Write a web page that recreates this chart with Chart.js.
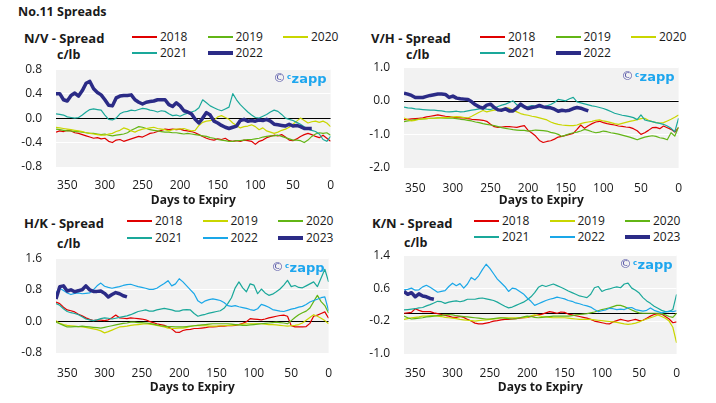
<!DOCTYPE html>
<html>
<head>
<meta charset="utf-8">
<script src="https://cdn.jsdelivr.net/npm/chart.js@4.4.0/dist/chart.umd.min.js"></script>
<style>
  body { margin: 0; width: 716px; height: 403px; background: #fff; position: relative; overflow: hidden;
         font-family: 'Open Sans', sans-serif; color: #1a1a1a; }
  .t { position: absolute; white-space: nowrap; line-height: 16px; }
  canvas { position: absolute; }
</style>
</head>
<body>
<script>
// days to expiry, shared by every series
const days = [365,360,355,350,345,340,335,330,325,320,315,310,305,300,295,290,285,280,275,270,
  265,260,255,250,245,240,235,230,225,220,215,210,205,200,195,190,185,180,175,170,
  165,160,155,150,145,140,135,130,125,120,115,110,105,100,95,90,85,80,75,70,
  65,60,55,50,45,40,35,30,25,20,15,10,5,0];
const xTicks = [350, 300, 250, 200, 150, 100, 50, 0];

const nvTicks = [-0.8, -0.4, 0, 0.4, 0.8];
const vhTicks = [-2, -1, 0, 1];
const hkTicks = [-0.8, 0, 0.8, 1.6];
const knTicks = [-1.0, -0.2, 0.6, 1.4];

// N/V spread
const nv2018 = [-0.23,-0.21,-0.22,-0.20,-0.21,-0.24,-0.25,-0.27,-0.29,-0.31,
  -0.33,-0.32,-0.34,-0.33,-0.38,-0.40,-0.36,-0.35,-0.38,-0.36,
  -0.34,-0.32,-0.30,-0.31,-0.28,-0.25,-0.24,-0.22,-0.20,-0.18,
  -0.19,-0.18,-0.19,-0.18,-0.20,-0.21,-0.22,-0.24,-0.27,-0.30,
  -0.33,-0.35,-0.36,-0.34,-0.35,-0.33,-0.37,-0.38,-0.37,-0.38,
  -0.36,-0.37,-0.38,-0.43,-0.38,-0.36,-0.32,-0.30,-0.28,-0.29,
  -0.27,-0.31,-0.36,-0.37,-0.34,-0.30,-0.27,-0.25,-0.27,-0.30,
  -0.32,-0.28,-0.33,-0.38];
const nv2019 = [-0.18,-0.19,-0.20,-0.21,-0.21,-0.22,-0.22,-0.23,-0.24,-0.25,
  -0.25,-0.26,-0.27,-0.26,-0.28,-0.29,-0.28,-0.27,-0.26,-0.24,
  -0.20,-0.17,-0.14,-0.15,-0.17,-0.19,-0.20,-0.21,-0.22,-0.23,
  -0.23,-0.24,-0.24,-0.25,-0.26,-0.25,-0.26,-0.27,-0.28,-0.29,
  -0.30,-0.32,-0.33,-0.35,-0.36,-0.37,-0.38,-0.38,-0.37,-0.37,
  -0.36,-0.35,-0.35,-0.34,-0.33,-0.31,-0.30,-0.29,-0.29,-0.28,
  -0.30,-0.32,-0.34,-0.36,-0.36,-0.37,-0.40,-0.36,-0.30,-0.26,
  -0.24,-0.25,-0.24,-0.28];
const nv2020 = [-0.15,-0.16,-0.17,-0.18,-0.19,-0.20,-0.21,-0.22,-0.24,-0.25,
  -0.26,-0.27,-0.28,-0.28,-0.26,-0.25,-0.22,-0.20,-0.16,-0.18,
  -0.21,-0.23,-0.20,-0.18,-0.17,-0.16,-0.15,-0.17,-0.18,-0.19,
  -0.21,-0.19,-0.18,-0.18,-0.17,-0.19,-0.21,-0.20,-0.12,-0.07,
  -0.05,-0.04,-0.03,0.02,0.04,0.01,-0.02,-0.08,-0.12,-0.16,
  -0.14,-0.13,-0.11,-0.14,-0.19,-0.16,-0.21,-0.23,-0.25,-0.23,
  -0.20,-0.18,-0.15,-0.10,-0.05,0.00,-0.04,-0.08,-0.06,-0.05,
  -0.07,-0.05,-0.08,-0.14];
const nv2021 = [0.07,0.06,0.05,0.02,0.01,0.00,0.01,0.05,0.10,0.14,
  0.15,0.14,0.13,0.05,-0.02,-0.03,0.00,0.07,0.10,0.11,
  0.13,0.12,0.14,0.16,0.15,0.13,0.12,0.10,0.12,0.11,
  0.07,0.04,0.05,0.03,0.06,0.08,0.10,0.12,0.17,0.30,
  0.25,0.20,0.17,0.14,0.12,0.15,0.18,0.40,0.30,0.22,
  0.16,0.10,0.05,0.01,0.00,0.03,0.06,0.10,0.13,0.11,
  0.06,0.00,-0.02,-0.04,-0.07,-0.10,-0.14,-0.18,-0.20,-0.22,
  -0.26,-0.35,-0.38,-0.30];
const nv2022 = [0.40,0.40,0.30,0.28,0.37,0.41,0.36,0.45,0.57,0.60,
  0.48,0.42,0.38,0.30,0.21,0.20,0.33,0.36,0.37,0.37,
  0.38,0.30,0.26,0.23,0.26,0.27,0.28,0.30,0.30,0.30,
  0.22,0.19,0.25,0.20,0.12,0.10,0.07,-0.02,-0.08,0.00,
  0.09,0.05,-0.05,-0.08,-0.12,-0.15,-0.17,-0.15,-0.13,-0.04,
  -0.02,-0.05,-0.04,-0.05,-0.03,-0.04,-0.02,-0.05,-0.10,-0.11,
  -0.12,-0.13,-0.10,-0.13,-0.12,-0.14,-0.17,-0.17,-0.17];

// V/H spread
const vh2018 = [-0.56,-0.55,-0.54,-0.53,-0.52,-0.51,-0.48,-0.46,-0.44,-0.42,
  -0.44,-0.46,-0.47,-0.49,-0.50,-0.51,-0.51,-0.53,-0.55,-0.56,
  -0.57,-0.58,-0.61,-0.70,-0.77,-0.79,-0.78,-0.77,-0.77,-0.78,
  -0.79,-0.76,-0.74,-0.88,-0.96,-1.05,-1.18,-1.24,-1.21,-1.19,
  -1.14,-1.08,-1.06,-1.03,-1.00,-0.97,-0.85,-0.72,-0.82,-0.74,
  -0.68,-0.63,-0.61,-0.65,-0.68,-0.70,-0.72,-0.75,-0.76,-0.78,
  -0.79,-0.83,-0.89,-1.00,-0.95,-0.88,-0.80,-0.79,-0.83,-0.75,
  -0.80,-0.85,-0.93,-0.80];
const vh2019 = [-0.62,-0.60,-0.58,-0.56,-0.55,-0.54,-0.53,-0.52,-0.52,-0.51,
  -0.51,-0.52,-0.51,-0.52,-0.53,-0.55,-0.56,-0.58,-0.60,-0.63,
  -0.65,-0.68,-0.70,-0.72,-0.74,-0.77,-0.80,-0.82,-0.84,-0.86,
  -0.87,-0.88,-0.88,-0.90,-0.89,-0.87,-0.88,-0.89,-0.90,-0.94,
  -0.96,-1.00,-1.06,-1.02,-0.98,-0.95,-0.93,-0.90,-0.85,-0.88,
  -0.92,-0.95,-0.93,-0.90,-0.92,-0.95,-0.97,-0.99,-1.02,-1.05,
  -1.08,-1.12,-1.16,-1.12,-1.08,-1.06,-1.04,-1.06,-1.10,-1.12,
  -1.16,-0.95,-1.05,-0.78];
const vh2020 = [-0.51,-0.56,-0.60,-0.58,-0.55,-0.54,-0.53,-0.52,-0.52,-0.51,
  -0.50,-0.50,-0.49,-0.48,-0.47,-0.48,-0.50,-0.51,-0.46,-0.40,
  -0.34,-0.29,-0.33,-0.30,-0.28,-0.27,-0.25,-0.21,-0.22,-0.28,
  -0.33,-0.38,-0.41,-0.43,-0.46,-0.48,-0.51,-0.54,-0.57,-0.63,
  -0.67,-0.70,-0.72,-0.73,-0.74,-0.74,-0.72,-0.68,-0.65,-0.63,
  -0.61,-0.58,-0.57,-0.60,-0.62,-0.65,-0.68,-0.70,-0.67,-0.64,
  -0.61,-0.59,-0.56,-0.53,-0.52,-0.58,-0.62,-0.65,-0.66,-0.65,
  -0.60,-0.55,-0.49,-0.42];
const vh2021 = [-0.19,-0.21,-0.22,-0.24,-0.25,-0.26,-0.27,-0.28,-0.28,-0.29,
  -0.30,-0.32,-0.33,-0.32,-0.31,-0.33,-0.32,-0.30,-0.28,-0.26,
  -0.24,-0.23,-0.25,-0.26,-0.22,-0.17,-0.13,-0.10,-0.05,0.00,
  -0.12,-0.17,-0.19,-0.17,-0.14,-0.16,-0.18,-0.19,-0.15,-0.11,
  -0.05,0.04,0.02,0.00,0.06,0.10,-0.03,-0.06,-0.09,-0.12,
  -0.15,-0.17,-0.20,-0.23,-0.27,-0.32,-0.37,-0.40,-0.43,-0.45,
  -0.47,-0.50,-0.56,-0.42,-0.57,-0.60,-0.62,-0.65,-0.67,-0.70,
  -0.75,-0.82,-0.92,-0.52];
const vh2022 = [0.23,0.20,0.16,0.10,0.10,0.10,0.13,0.16,0.18,0.20,
  0.20,0.19,0.10,0.14,0.08,0.06,0.05,0.04,-0.03,-0.12,
  -0.18,-0.22,-0.13,-0.10,-0.20,-0.27,-0.28,-0.24,-0.30,-0.30,
  -0.22,-0.10,-0.18,-0.23,-0.20,-0.18,-0.14,-0.18,-0.20,-0.21,
  -0.25,-0.31,-0.28,-0.30,-0.28,-0.23,-0.20,-0.22,-0.26,-0.30];

// H/K spread
const hk2018 = [0.49,0.45,0.36,0.29,0.27,0.24,0.18,0.14,0.09,0.05,
  0.02,0.03,0.03,0.02,0.04,0.09,0.16,0.09,0.08,0.07,
  0.09,0.08,0.07,0.06,0.04,0.00,-0.03,-0.06,-0.08,-0.10,
  -0.14,-0.19,-0.27,-0.28,-0.23,-0.21,-0.20,-0.18,-0.18,-0.17,
  -0.16,-0.14,-0.14,-0.13,-0.12,-0.12,-0.11,-0.11,-0.10,-0.08,
  -0.05,-0.01,0.07,0.06,0.05,0.04,0.06,0.09,0.11,0.13,
  0.15,0.16,0.13,-0.11,-0.14,-0.14,-0.14,-0.13,-0.05,0.13,
  0.16,0.20,0.24,0.08];
const hk2019 = [0.02,-0.05,-0.08,-0.10,-0.11,-0.12,-0.13,-0.14,-0.15,-0.17,
  -0.19,-0.21,-0.24,-0.29,-0.26,-0.22,-0.18,-0.14,-0.13,-0.12,
  -0.10,-0.09,-0.08,-0.07,-0.06,-0.07,-0.08,-0.10,-0.12,-0.14,
  -0.17,-0.18,-0.18,-0.17,-0.17,-0.15,-0.13,-0.11,-0.10,-0.11,
  -0.11,-0.12,-0.12,-0.12,-0.11,-0.11,-0.10,-0.10,-0.09,-0.08,
  -0.07,-0.06,-0.06,-0.06,-0.06,-0.06,-0.07,-0.08,-0.08,-0.09,
  -0.10,-0.11,-0.12,-0.11,-0.10,-0.08,-0.04,0.03,0.10,0.17,
  0.13,0.08,0.02,-0.06];
const hk2020 = [-0.02,-0.06,-0.10,-0.14,-0.14,-0.13,-0.13,-0.12,-0.13,-0.14,
  -0.15,-0.16,-0.17,-0.15,-0.13,-0.11,-0.09,-0.07,-0.05,-0.04,
  -0.02,-0.02,-0.03,-0.03,-0.04,-0.05,-0.07,-0.09,-0.11,-0.12,
  -0.13,-0.13,-0.14,-0.14,-0.14,-0.13,-0.12,-0.11,-0.10,-0.09,
  -0.08,-0.07,-0.06,-0.06,-0.06,-0.06,-0.06,-0.07,-0.08,-0.09,
  -0.10,-0.10,-0.09,-0.08,-0.07,-0.06,-0.05,-0.04,-0.03,-0.02,
  -0.03,-0.04,-0.06,0.02,0.10,0.17,0.22,0.26,0.34,0.50,
  0.66,0.50,0.40,0.21];
const hk2021 = [0.45,0.41,0.32,0.25,0.22,0.20,0.17,0.12,0.06,0.04,
  0.02,0.04,0.07,0.09,0.08,0.06,0.08,0.10,0.12,0.14,
  0.17,0.21,0.25,0.27,0.29,0.26,0.26,0.29,0.31,0.33,
  0.31,0.29,0.26,0.26,0.29,0.30,0.29,0.20,0.13,0.16,
  0.18,0.21,0.23,0.25,0.27,0.33,0.45,0.60,0.85,1.00,
  0.85,0.75,0.95,0.92,0.70,0.82,0.72,0.66,0.69,0.75,
  0.82,0.92,1.04,0.88,0.91,0.86,0.85,0.90,0.95,1.00,
  0.88,1.10,1.32,1.00];
const hk2022 = [0.72,0.84,0.78,0.72,0.68,0.71,0.72,0.70,0.71,0.72,
  0.80,0.90,0.97,0.89,0.86,0.84,0.86,0.88,0.91,0.93,
  0.94,0.91,0.88,0.86,0.84,0.81,0.81,0.84,0.90,0.96,
  1.03,0.90,0.95,1.08,1.00,0.90,0.80,0.70,0.52,0.46,
  0.52,0.55,0.57,0.55,0.53,0.48,0.40,0.38,0.40,0.37,
  0.35,0.33,0.30,0.28,0.32,0.43,0.40,0.36,0.30,0.28,
  0.26,0.25,0.28,0.31,0.33,0.36,0.38,0.43,0.49,0.53,
  0.56,0.60,0.62,0.27];
const hk2023 = [0.57,0.88,0.90,0.77,0.80,0.75,0.78,0.80,0.90,0.80,
  0.76,0.76,0.77,0.71,0.62,0.68,0.73,0.70,0.65,0.62];

// K/N spread
const kn2018 = [-0.01,0.00,0.01,0.10,0.06,0.03,0.03,0.03,0.00,-0.02,
  -0.04,-0.06,-0.08,-0.11,-0.11,-0.09,-0.11,-0.16,-0.20,-0.25,
  -0.27,-0.27,-0.25,-0.23,-0.20,-0.19,-0.17,-0.16,-0.16,-0.15,
  -0.14,-0.13,-0.12,-0.11,-0.09,-0.07,-0.05,-0.03,0.00,0.03,
  0.01,-0.01,0.02,0.01,-0.03,-0.05,-0.07,-0.09,-0.11,-0.13,
  -0.16,-0.20,-0.22,-0.24,-0.26,-0.27,-0.22,-0.19,-0.16,-0.18,
  -0.20,-0.18,-0.16,-0.19,-0.18,-0.13,-0.08,-0.04,-0.02,-0.03,
  -0.09,-0.15,-0.24,-0.22];
const kn2019 = [-0.16,-0.14,-0.12,-0.11,-0.10,-0.08,-0.08,-0.07,-0.07,-0.08,
  -0.09,-0.11,-0.12,-0.13,-0.14,-0.16,-0.17,-0.18,-0.19,-0.20,
  -0.19,-0.18,-0.17,-0.16,-0.15,-0.14,-0.12,-0.12,-0.12,-0.12,
  -0.12,-0.12,-0.12,-0.11,-0.07,-0.05,-0.07,-0.09,-0.10,-0.11,
  -0.12,-0.12,-0.12,-0.12,-0.13,-0.14,-0.15,-0.16,-0.16,-0.16,
  -0.16,-0.17,-0.18,-0.19,-0.20,-0.21,-0.22,-0.23,-0.25,-0.27,
  -0.28,-0.27,-0.25,-0.22,-0.18,-0.15,-0.12,-0.09,-0.05,-0.09,
  -0.13,-0.20,-0.35,-0.73];
const kn2020 = [-0.08,-0.12,-0.15,-0.14,-0.13,-0.12,-0.10,-0.09,-0.08,-0.07,
  -0.06,-0.05,-0.04,-0.05,-0.07,-0.08,-0.09,-0.10,-0.11,-0.12,
  -0.13,-0.14,-0.15,-0.15,-0.14,-0.13,-0.12,-0.13,-0.14,-0.15,
  -0.14,-0.12,-0.10,-0.08,-0.09,-0.11,-0.12,-0.11,-0.10,-0.09,
  -0.08,-0.08,-0.08,-0.08,-0.08,-0.07,-0.05,-0.04,-0.03,-0.02,
  0.00,0.02,0.05,0.08,0.10,0.12,0.15,0.18,0.18,0.15,
  0.11,0.07,0.03,0.00,-0.01,-0.01,-0.01,-0.01,-0.01,-0.02,
  -0.05,-0.09,-0.11,-0.01];
const kn2021 = [0.07,0.08,0.09,0.10,0.12,0.13,0.17,0.20,0.24,0.28,
  0.27,0.23,0.26,0.28,0.29,0.27,0.29,0.33,0.33,0.33,
  0.35,0.36,0.34,0.32,0.30,0.26,0.21,0.16,0.12,0.14,
  0.18,0.22,0.26,0.32,0.39,0.49,0.62,0.67,0.64,0.67,
  0.70,0.66,0.62,0.58,0.53,0.49,0.45,0.41,0.39,0.37,
  0.45,0.61,0.64,0.52,0.56,0.58,0.61,0.63,0.61,0.70,
  0.72,0.60,0.55,0.48,0.37,0.29,0.23,0.16,0.11,0.06,
  0.03,0.03,0.08,0.45];
const kn2022 = [0.56,0.57,0.60,0.55,0.56,0.63,0.67,0.62,0.56,0.50,
  0.52,0.54,0.64,0.72,0.66,0.71,0.60,0.70,0.86,0.80,
  0.90,1.05,1.18,1.08,0.95,0.82,0.73,0.64,0.52,0.60,
  0.58,0.52,0.46,0.36,0.28,0.18,0.22,0.26,0.30,0.33,
  0.35,0.38,0.36,0.34,0.30,0.28,0.24,0.22,0.19,0.17,
  0.14,0.08,0.03,0.05,0.07,0.11,0.10,0.08,0.09,0.08,
  0.12,0.13,0.08,0.06,0.04,0.06,0.12,0.06,0.03,0.00,
  0.02,0.04,0.03,0.05];
const kn2023 = [0.52,0.45,0.49,0.39,0.46,0.41,0.39,0.35,0.33];

const FONT = "'Open Sans', sans-serif";
const TEXT = '#1a1a1a';
const RED = '#e00000', GREEN = '#62b515', YELLOW = '#c9d600', TEAL = '#1aa89a', BLUE = '#1aa7e8', NAVY = '#2b2b86';
const THIN = 1.2, THICK = 3.5;

// chart.js adds room for the tick labels on top of the layout padding
const PAD_TOP = 8.8, PAD_RIGHT = 5.6;

const panels = [
  { title: 'N/V - Spread', titleX: 24, unitX: 57, titleY: 38, unitY: 55, legX: 132, legY: [37, 53],
    box: [0, 48, 345, 162], yW: 56, xH: 43, tickPad: 11, titlePad: 2, ticks: nvTicks,
    series: [['2018', nv2018, RED, THIN], ['2019', nv2019, GREEN, THIN], ['2020', nv2020, YELLOW, THIN],
             ['2021', nv2021, TEAL, THIN], ['2022', nv2022, NAVY, THICK]] },
  { title: 'V/H - Spread', titleX: 371, unitX: 406, titleY: 38, unitY: 55, legX: 480, legY: [37, 53],
    box: [356, 46, 339, 164], yW: 48, xH: 42, tickPad: 13, titlePad: 2, ticks: vhTicks,
    series: [['2018', vh2018, RED, THIN], ['2019', vh2019, GREEN, THIN], ['2020', vh2020, YELLOW, THIN],
             ['2021', vh2021, TEAL, THIN], ['2022', vh2022, NAVY, THICK]] },
  { title: 'H/K - Spread', titleX: 24, unitX: 57, titleY: 223, unitY: 244, legX: 127, legY: [221, 238],
    box: [0, 237, 345, 161], yW: 56, xH: 45, tickPad: 13, titlePad: 3, ticks: hkTicks,
    series: [['2018', hk2018, RED, THIN], ['2019', hk2019, YELLOW, THIN], ['2020', hk2020, GREEN, THIN],
             ['2021', hk2021, TEAL, THIN], ['2022', hk2022, BLUE, THIN], ['2023', hk2023, NAVY, THICK]] },
  { title: 'K/N - Spread', titleX: 372, unitX: 404, titleY: 223, unitY: 243, legX: 474, legY: [221, 237],
    box: [356, 234, 336, 164], yW: 48, xH: 44, tickPad: 12, titlePad: 3, ticks: knTicks,
    series: [['2018', kn2018, RED, THIN], ['2019', kn2019, YELLOW, THIN], ['2020', kn2020, GREEN, THIN],
             ['2021', kn2021, TEAL, THIN], ['2022', kn2022, BLUE, THIN], ['2023', kn2023, NAVY, THICK]] }
];

function addText(txt, x, cy, size, weight) {
  const d = document.createElement('div');
  d.className = 't';
  d.textContent = txt;
  d.style.left = x + 'px';
  d.style.top = (cy - 8) + 'px';
  d.style.fontSize = size + 'px';
  d.style.fontWeight = weight;
  document.body.appendChild(d);
}

function addLine(x, cy, w, h, color) {
  const d = document.createElement('div');
  d.style.cssText = `position:absolute;left:${x}px;top:${cy - h / 2}px;width:${w}px;height:${h}px;background:${color}`;
  document.body.appendChild(d);
}

// grey plot area
const bgPlugin = {
  id: 'bg',
  beforeDraw(chart) {
    const { ctx, chartArea: a } = chart;
    ctx.save();
    ctx.fillStyle = '#f2f2f2';
    ctx.fillRect(a.left, a.top, a.right - a.left, a.bottom - a.top);
    ctx.restore();
  }
};

// black zero line and the watermark
const overlayPlugin = {
  id: 'overlay',
  beforeDatasetsDraw(chart) {
    const { ctx, chartArea: a, scales } = chart;
    const y0 = Math.round(scales.y.getPixelForValue(0)) + 0.5;
    ctx.save();
    ctx.strokeStyle = '#000';
    ctx.lineWidth = 1;
    ctx.beginPath();
    ctx.moveTo(a.left, y0);
    ctx.lineTo(a.right, y0);
    ctx.stroke();

    const y = a.top + 10;
    const zx = a.right - 4;
    ctx.textBaseline = 'middle';
    ctx.textAlign = 'right';
    ctx.font = "bold 13px 'DejaVu Sans'";
    ctx.fillStyle = '#1ea6ee';
    ctx.fillText('zapp', zx, y);
    const zw = ctx.measureText('zapp').width;
    ctx.font = "bold 7px 'DejaVu Sans'";
    ctx.fillText('c', zx - zw - 0.5, y - 2.5);
    ctx.font = "12px 'DejaVu Sans'";
    ctx.fillStyle = '#5454a6';
    ctx.fillText('\u00a9', zx - zw - 6, y);
    ctx.restore();
  }
};

addText('No.11 Spreads', 18, 12, 12.5, 'bold');

panels.forEach(p => {
  addText(p.title, p.titleX, p.titleY, 13, 'bold');
  addText('c/lb', p.unitX, p.unitY, 12.5, 'bold');

  p.series.forEach((s, i) => {
    const col = i % 3, row = Math.floor(i / 3);
    const lx = p.legX + col * 75.5;
    addLine(lx, p.legY[row], 25, s[3] > 2 ? 4 : 1.2, s[2]);
    addText(s[0], lx + 28, p.legY[row], 12, 'normal');
  });

  const canvas = document.createElement('canvas');
  canvas.width = p.box[2];
  canvas.height = p.box[3];
  canvas.style.left = p.box[0] + 'px';
  canvas.style.top = p.box[1] + 'px';
  document.body.appendChild(canvas);

  const n = p.series.length;
  new Chart(canvas, {
    type: 'line',
    data: {
      datasets: p.series.map((s, i) => ({
        label: s[0],
        data: s[1].map((v, j) => ({ x: days[j], y: v })),
        borderColor: s[2],
        borderWidth: s[3],
        borderJoinStyle: 'round',
        pointRadius: 0,
        tension: 0,
        fill: false,
        order: n - i
      }))
    },
    options: {
      responsive: false,
      animation: false,
      devicePixelRatio: 1,
      layout: { padding: { top: PAD_TOP, right: PAD_RIGHT, left: 0, bottom: 0 } },
      plugins: { legend: { display: false }, tooltip: { enabled: false } },
      scales: {
        x: {
          type: 'linear', reverse: true, min: 0, max: 365,
          afterBuildTicks: s => { s.ticks = xTicks.map(v => ({ value: v })); },
          afterFit: s => { s.height = p.xH; },
          grid: { display: false, drawTicks: false },
          border: { display: false },
          ticks: { font: { family: FONT, size: 12 }, color: TEXT, padding: p.tickPad, maxRotation: 0, autoSkip: false },
          title: { display: true, text: 'Days to Expiry', color: TEXT,
                   font: { family: FONT, size: 12, weight: 'bold' }, padding: { top: 0, bottom: p.titlePad } }
        },
        y: {
          min: p.ticks[0], max: p.ticks[p.ticks.length - 1],
          afterBuildTicks: s => { s.ticks = p.ticks.map(v => ({ value: v })); },
          afterFit: s => { s.width = p.yW; },
          grid: { color: '#ffffff', lineWidth: 1, drawTicks: false },
          border: { display: false },
          ticks: { font: { family: FONT, size: 12 }, color: TEXT, padding: 14, callback: v => v.toFixed(1) }
        }
      }
    },
    plugins: [bgPlugin, overlayPlugin]
  });
});
</script>
</body>
</html>
